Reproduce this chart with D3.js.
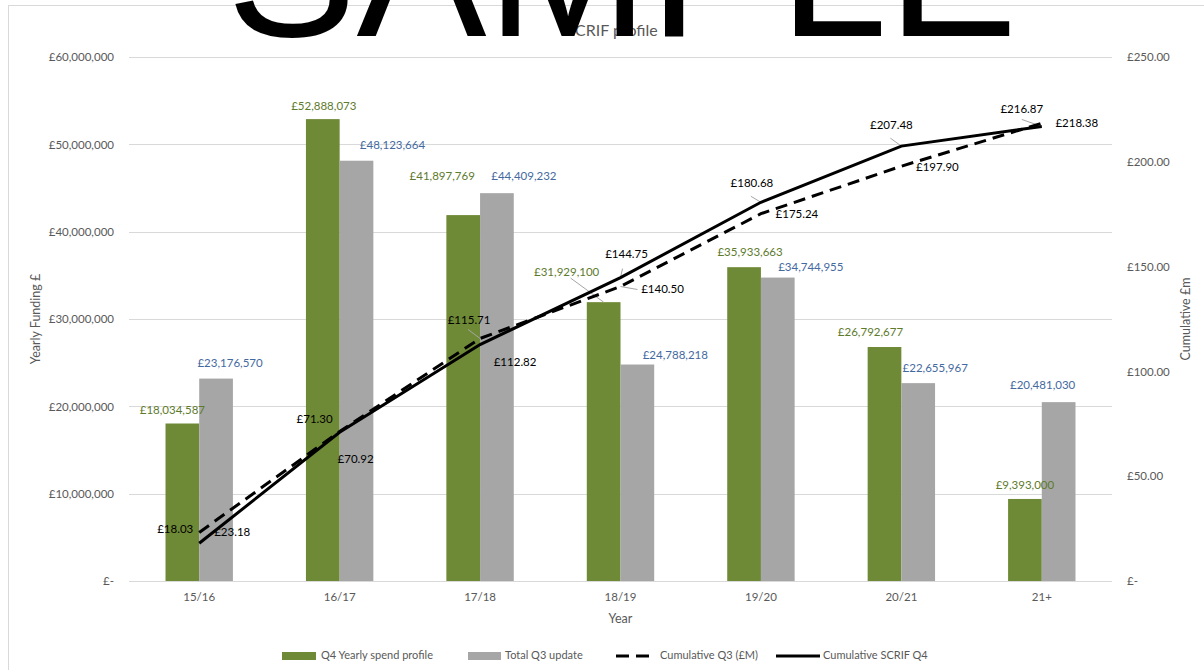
<!DOCTYPE html>
<html>
<head>
<meta charset="utf-8">
<script src="https://cdn.jsdelivr.net/npm/d3@7"></script>
<style>
  html, body { margin: 0; padding: 0; background: #fff; }
  svg { display: block; }
  text { font-family: "Lato", "Open Sans", sans-serif; }
  text.watermark { font-family: "Liberation Sans", Arial, sans-serif; }
</style>
</head>
<body>
<script>
// ---- data ----
const years = ["15/16", "16/17", "17/18", "18/19", "19/20", "20/21", "21+"];
const q4Spend = [18034587, 52888073, 41897769, 31929100, 35933663, 26792677, 9393000];
const q3Total = [23176570, 48123664, 44409232, 24788218, 34744955, 22655967, 20481030];
const cumQ3 = [23.18, 71.30, 115.71, 140.50, 175.24, 197.90, 218.38];
const cumQ4 = [18.03, 70.92, 112.82, 144.75, 180.68, 207.48, 216.87];
const leftTicks = [0, 10e6, 20e6, 30e6, 40e6, 50e6, 60e6];
const rightTicks = [0, 50, 100, 150, 200, 250];

// ---- label placement: offsets of each label's centre from its mark (px) ----
const q4LabelOff = [[-10,-12],[1,-12],[-21,-38],[-37,-29],[6,-14],[-14,-14],[0,-13]];
const q3LabelOff = [[14,-14],[36,-15],[27,-16],[38,-8],[33,-9],[17,-14],[-16,-16]];
const cumQ4LabelOff = [[-24,-13],[16,28],[35,19],[6,-23],[-9,-18],[-10,-20],[-20,-16]];
const cumQ3LabelOff = [[33,1],[-25,-11],[-11,-17],[42,4],[36,1],[36,2],[35,1]];
// leader lines: end point offsets from the mark (null = none)
const cumQ4Leader = [null, null, null, [2,-9], [-10,-6], [-11,-8], [-20,-7]];
const cumQ3Leader = [null, null, [-12,-9], [17,3], null, null, null];
const q4Leader = [null, null, null, [-33,-24], null, null, null];

const W = 1204, H = 670;
const plot = { left: 129, right: 1112, top: 57, bottom: 581 };

const svg = d3.select("body").append("svg").attr("width", W).attr("height", H);

// chart frame
svg.append("rect").attr("x", 8.5).attr("y", 5.5).attr("width", 1202).attr("height", 680)
  .attr("fill", "none").attr("stroke", "#d9d9d9").attr("stroke-width", 1);

const x = d3.scaleBand().domain(years).range([plot.left, plot.right]).padding(0);
const barW = x.bandwidth() * 0.24;
const cx = d => x(d) + x.bandwidth() / 2;
const yL = d3.scaleLinear().domain([0, 60e6]).range([plot.bottom, plot.top]);
const yR = d3.scaleLinear().domain([0, 250]).range([plot.bottom, plot.top]);

const gbp0 = d3.format(",.0f");
const gbp2 = d3.format(",.2f");
const axisGrey = "#595959";

// gridlines
svg.append("g").selectAll("line").data(leftTicks).join("line")
  .attr("x1", plot.left).attr("x2", plot.right)
  .attr("y1", d => Math.round(yL(d)) + 0.5).attr("y2", d => Math.round(yL(d)) + 0.5)
  .attr("stroke", "#d9d9d9").attr("stroke-width", 1);

// left axis
const axL = d3.axisLeft(yL).tickValues(leftTicks).tickSize(0).tickPadding(0)
  .tickFormat(d => d === 0 ? "£-" : "£" + gbp0(d));
const gL = svg.append("g").attr("transform", `translate(${plot.left - 15},0)`).call(axL);
gL.select(".domain").remove();
gL.selectAll("text").attr("fill", axisGrey).attr("font-size", 11.5);

// right axis
const axR = d3.axisRight(yR).tickValues(rightTicks).tickSize(0).tickPadding(0)
  .tickFormat(d => d === 0 ? "£-" : "£" + gbp2(d));
const gR = svg.append("g").attr("transform", `translate(${plot.right + 15},0)`).call(axR);
gR.select(".domain").remove();
gR.selectAll("text").attr("fill", axisGrey).attr("font-size", 11.5);

// x axis
const axX = d3.axisBottom(x).tickSize(0).tickPadding(0);
const gX = svg.append("g").attr("transform", `translate(0,${plot.bottom + 12})`).call(axX);
gX.select(".domain").remove();
gX.selectAll("text").attr("fill", axisGrey).attr("font-size", 11.5);

// axis titles
svg.append("text").attr("transform", `translate(40,${(plot.top + plot.bottom) / 2}) rotate(-90)`)
  .attr("text-anchor", "middle").attr("fill", axisGrey).attr("font-size", 12.5).text("Yearly Funding £");
svg.append("text").attr("transform", `translate(1190,${(plot.top + plot.bottom) / 2}) rotate(-90)`)
  .attr("text-anchor", "middle").attr("fill", axisGrey).attr("font-size", 12.5).text("Cumulative £m");
svg.append("text").attr("x", (plot.left + plot.right) / 2).attr("y", 623)
  .attr("text-anchor", "middle").attr("fill", axisGrey).attr("font-size", 12.5).text("Year");

// title
svg.append("text").attr("x", 612).attr("y", 36).attr("text-anchor", "middle")
  .attr("fill", axisGrey).attr("font-size", 16).text("SCRIF profile");

const greenC = "#6f8a36", greyC = "#a6a6a6";
const greenText = "#5e7a2c", blueText = "#44699f";

// bars
svg.append("g").selectAll("rect").data(q4Spend).join("rect")
  .attr("x", (d, i) => cx(years[i]) - barW).attr("width", barW)
  .attr("y", d => yL(d)).attr("height", d => yL(0) - yL(d)).attr("fill", greenC);
svg.append("g").selectAll("rect").data(q3Total).join("rect")
  .attr("x", (d, i) => cx(years[i])).attr("width", barW)
  .attr("y", d => yL(d)).attr("height", d => yL(0) - yL(d)).attr("fill", greyC);

// leader lines
const leaderG = svg.append("g").attr("stroke", "#a6a6a6").attr("stroke-width", 1);
function drawLeaders(values, offs, px, py) {
  values.forEach((v, i) => {
    if (!offs[i]) return;
    const x0 = px(i), y0 = py(v);
    leaderG.append("line").attr("x1", x0).attr("y1", y0)
      .attr("x2", x0 + offs[i][0]).attr("y2", y0 + offs[i][1]);
  });
}
drawLeaders(cumQ4, cumQ4Leader, i => cx(years[i]), yR);
drawLeaders(cumQ3, cumQ3Leader, i => cx(years[i]), yR);
drawLeaders(q4Spend, q4Leader, i => cx(years[i]) - barW / 2, yL);

// cumulative lines
const line = d3.line().x((d, i) => cx(years[i])).y(d => yR(d));
svg.append("path").datum(cumQ3).attr("d", line).attr("fill", "none")
  .attr("stroke", "#000").attr("stroke-width", 3).attr("stroke-dasharray", "12,7");
svg.append("path").datum(cumQ4).attr("d", line).attr("fill", "none")
  .attr("stroke", "#000").attr("stroke-width", 3);

// bar value labels
svg.append("g").selectAll("text").data(q4Spend).join("text")
  .attr("x", (d, i) => cx(years[i]) - barW / 2 + q4LabelOff[i][0])
  .attr("y", (d, i) => yL(d) + q4LabelOff[i][1])
  .attr("text-anchor", "middle").attr("dominant-baseline", "middle")
  .attr("fill", greenText).attr("font-size", 11.5)
  .text(d => "£" + gbp0(d));
svg.append("g").selectAll("text").data(q3Total).join("text")
  .attr("x", (d, i) => cx(years[i]) + barW / 2 + q3LabelOff[i][0])
  .attr("y", (d, i) => yL(d) + q3LabelOff[i][1])
  .attr("text-anchor", "middle").attr("dominant-baseline", "middle")
  .attr("fill", blueText).attr("font-size", 11.5)
  .text(d => "£" + gbp0(d));

// cumulative labels
svg.append("g").selectAll("text").data(cumQ4).join("text")
  .attr("x", (d, i) => cx(years[i]) + cumQ4LabelOff[i][0])
  .attr("y", (d, i) => yR(d) + cumQ4LabelOff[i][1])
  .attr("text-anchor", "middle").attr("dominant-baseline", "middle").attr("fill", "#000").attr("font-size", 11.5)
  .text(d => "£" + gbp2(d));
svg.append("g").selectAll("text").data(cumQ3).join("text")
  .attr("x", (d, i) => cx(years[i]) + cumQ3LabelOff[i][0])
  .attr("y", (d, i) => yR(d) + cumQ3LabelOff[i][1])
  .attr("text-anchor", "middle").attr("dominant-baseline", "middle").attr("fill", "#000").attr("font-size", 11.5)
  .text(d => "£" + gbp2(d));

// legend
const lg = svg.append("g").attr("transform", "translate(0,656)");
const legendItems = [
  { x: 282, w: 34, tx: 321, kind: "bar", color: greenC, label: "Q4 Yearly spend profile" },
  { x: 468, w: 33, tx: 505, kind: "bar", color: greyC, label: "Total Q3 update" },
  { x: 616, w: 40, tx: 660, kind: "dash", label: "Cumulative Q3 (£M)" },
  { x: 776, w: 44, tx: 823, kind: "solid", label: "Cumulative SCRIF Q4" }
];
legendItems.forEach(it => {
  if (it.kind === "bar") {
    lg.append("rect").attr("x", it.x).attr("y", -4).attr("width", it.w).attr("height", 8).attr("fill", it.color);
  } else {
    lg.append("line").attr("x1", it.x).attr("x2", it.x + it.w).attr("y1", 0).attr("y2", 0)
      .attr("stroke", "#000").attr("stroke-width", 3)
      .attr("stroke-dasharray", it.kind === "dash" ? "13,7" : null);
  }
  lg.append("text").attr("x", it.tx).attr("y", 0)
    .attr("dominant-baseline", "middle").attr("fill", axisGrey).attr("font-size", 11).text(it.label);
});

// watermark
svg.append("text").attr("class", "watermark").attr("x", 622).attr("y", 36).attr("text-anchor", "middle")
  .attr("font-size", 195).attr("fill", "#000").text("SAMPLE");
</script>
</body>
</html>
